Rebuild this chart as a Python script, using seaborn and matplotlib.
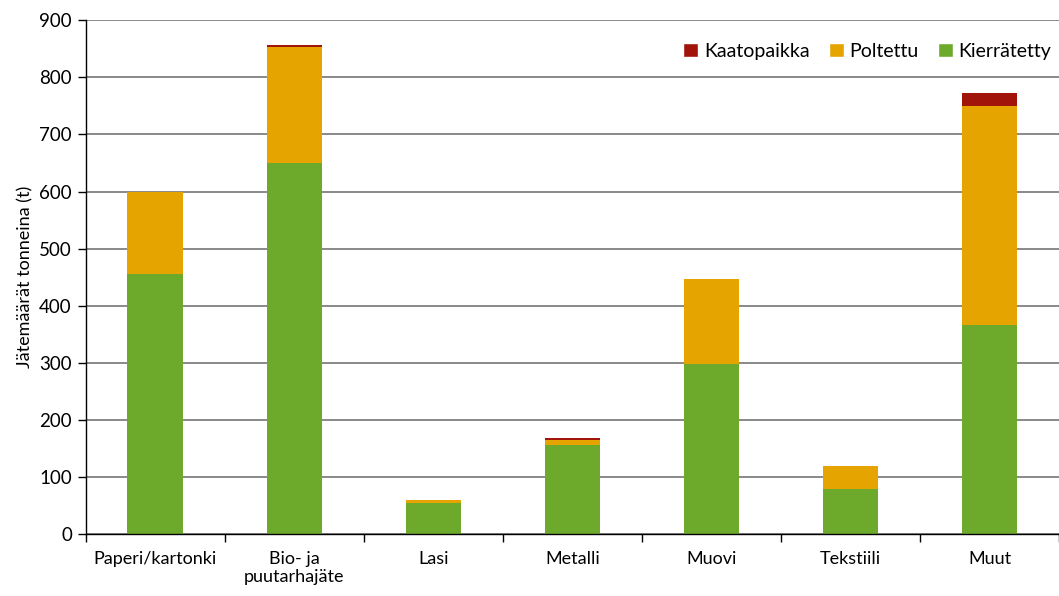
import numpy as np
import pandas as pd
import matplotlib
matplotlib.use("Agg")
import matplotlib.pyplot as plt
import seaborn as sns
from matplotlib.patches import Patch

categories = ["Paperi/kartonki", "Bio- ja\npuutarhajäte", "Lasi", "Metalli",
              "Muovi", "Tekstiili", "Muut"]
kierratetty = [455, 650, 55, 156, 297, 79, 366]
poltettu = [144, 203, 4, 8, 149, 41, 384]
kaatopaikka = [1, 3, 1, 4, 1, 0, 22]

col_kierr = "#6DAA2C"
col_polt = "#E6A400"
col_kaato = "#A0140A"

sns.set_theme(style="white")
plt.rcParams["font.family"] = ["Lato", "DejaVu Sans"]
plt.rcParams["text.color"] = "black"
plt.rcParams["axes.labelcolor"] = "black"
plt.rcParams["xtick.color"] = "black"
plt.rcParams["ytick.color"] = "black"

df = pd.DataFrame({"kategoria": categories,
                   "Kierrätetty": kierratetty,
                   "Poltettu": poltettu,
                   "Kaatopaikka": kaatopaikka})
base2 = df["Kierrätetty"].to_numpy()
base3 = base2 + df["Poltettu"].to_numpy()

fig, ax = plt.subplots(figsize=(10.59, 5.96), dpi=100)
fig.subplots_adjust(left=0.081, right=1.0, top=0.966, bottom=0.104)

ax.yaxis.grid(True, color="#6a6a6a", linewidth=1.1)
ax.set_axisbelow(True)

w = 0.4
sns.barplot(data=df, x="kategoria", y="Kierrätetty", color=col_kierr,
            width=w, saturation=1, ax=ax, linewidth=0)
sns.barplot(data=df, x="kategoria", y="Poltettu", color=col_polt,
            width=w, saturation=1, ax=ax, bottom=base2, linewidth=0)
sns.barplot(data=df, x="kategoria", y="Kaatopaikka", color=col_kaato,
            width=w, saturation=1, ax=ax, bottom=base3, linewidth=0)

ax.set_xlim(-0.5, len(categories) - 0.5)
ax.set_ylim(0, 900)
ax.set_yticks(np.arange(0, 901, 100))
ax.set_xlabel("")
ax.set_ylabel("Jätemäärät tonneina (t)", fontsize=13)

for s in ["top", "right"]:
    ax.spines[s].set_visible(False)
for s in ["left", "bottom"]:
    ax.spines[s].set_color("black")
    ax.spines[s].set_linewidth(1.0)

ax.tick_params(axis="y", which="major", left=True, length=6, width=1,
               color="black", labelsize=13.5, direction="out", pad=4)
ax.tick_params(axis="x", which="major", bottom=False, labelsize=13, pad=6)
ax.set_xticks(np.arange(-0.5, len(categories), 1.0), minor=True)
ax.tick_params(axis="x", which="minor", bottom=True, length=6, width=1,
               color="black", direction="out")

handles = [Patch(facecolor=col_kaato, label="Kaatopaikka"),
           Patch(facecolor=col_polt, label="Poltettu"),
           Patch(facecolor=col_kierr, label="Kierrätetty")]
ax.legend(handles=handles, loc="upper right", ncol=3, frameon=False,
          fontsize=14, handlelength=0.75, handleheight=0.75, handletextpad=0.3,
          columnspacing=1.0, bbox_to_anchor=(1.01, 0.99))

fig.savefig("out.png", dpi=100)
